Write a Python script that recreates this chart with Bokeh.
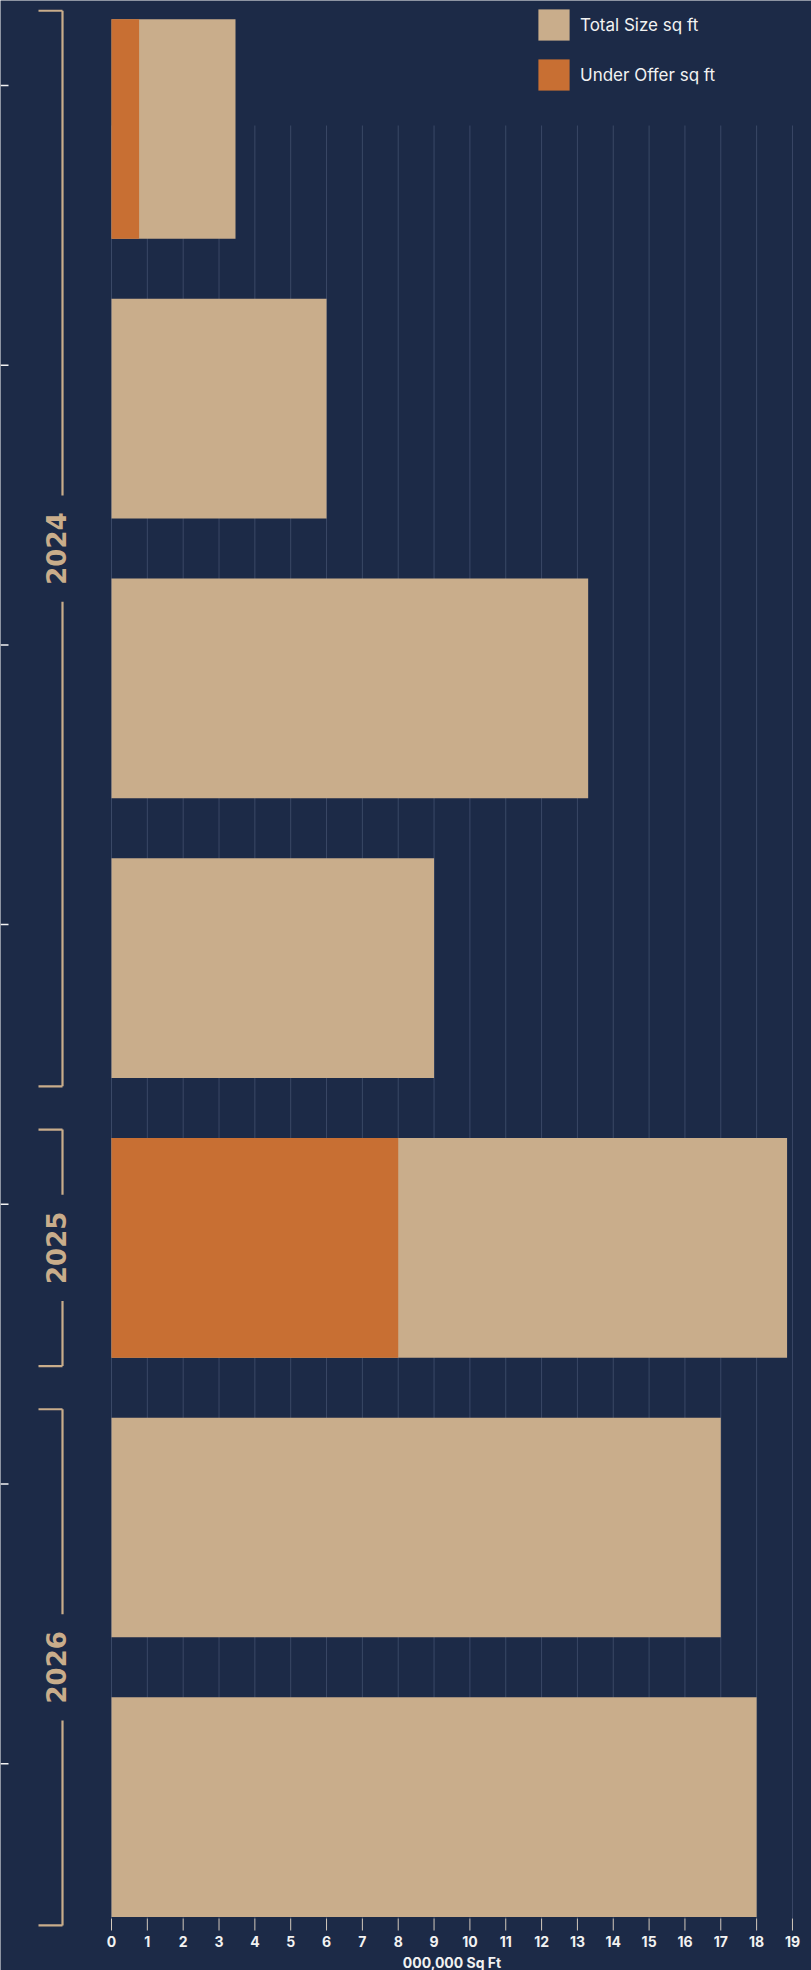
import math
from bokeh.plotting import figure
from bokeh.models import Range1d, Legend, LegendItem, ColumnDataSource
from bokeh.core.properties import value
from bokeh.embed import file_html
from bokeh.resources import INLINE

# ---------------- data ----------------
row_years = ["2024", "2024", "2024", "2024", "2025", "2026", "2026"]
total_size = [3.46, 6.0, 13.3, 9.0, 18.85, 17.0, 18.0]      # 000,000 sq ft
under_offer = [0.77, 0.0, 0.0, 0.0, 8.0, 0.0, 0.0]          # 000,000 sq ft
x_ticks = list(range(0, 20))
x_tick_labels = [str(t) for t in x_ticks]
x_label = "000,000 Sq Ft"
series_names = ["Total Size sq ft", "Under Offer sq ft"]

# ---------------- style ----------------
BG = "#1c2a47"
TAN = "#c9ad8b"
ORANGE = "#c86f33"
GRID = "#3a4866"
WHITE = "#f2f2f2"
TICK = "#d2c8bc"
FONT = "Inter"

W, H = 811, 1970
px_per_x = 35.84          # px per unit on x
x0_px = 111               # pixel where x = 0
px_per_row = 279.7
bar_h = 0.7855
first_center_px = 128.5
plot_bottom_px = 1918

x_start = -x0_px / px_per_x
x_end = x_start + W / px_per_x
y_top = -first_center_px / px_per_row
y_bottom = y_top + H / px_per_row


def ypix(py):
    return y_top + py / px_per_row


def xpix(px):
    return x_start + px / px_per_x


rows = list(range(len(total_size)))

p = figure(
    frame_width=W, frame_height=H,
    x_range=Range1d(x_start, x_end),
    y_range=Range1d(y_bottom, y_top),
    output_backend="svg", toolbar_location=None,
    min_border=0,
    background_fill_color=BG, border_fill_color=BG,
    outline_line_color=None,
)
p.xgrid.visible = False
p.ygrid.visible = False
p.xaxis.visible = False
p.yaxis.visible = False

n = len(x_ticks)
# grid lines (start below the legend band)
p.segment(x0=x_ticks, y0=[ypix(125)] * n, x1=x_ticks,
          y1=[ypix(plot_bottom_px)] * n, line_color=GRID, line_width=1)
# x tick marks
p.segment(x0=x_ticks, y0=[ypix(plot_bottom_px)] * n, x1=x_ticks,
          y1=[ypix(plot_bottom_px + 12)] * n, line_color=TICK, line_width=1)
# x tick labels
p.text(x=x_ticks, y=[ypix(1941)] * n, text=x_tick_labels,
       text_align="center", text_baseline="middle", text_color=WHITE,
       text_font=value(FONT), text_font_style="bold", text_font_size="14px")
# x axis label
p.text(x=[(x_ticks[0] + x_ticks[-1]) / 2], y=[ypix(1962)], text=[x_label],
       text_align="center", text_baseline="middle", text_color=WHITE,
       text_font=value(FONT), text_font_style="bold", text_font_size="14px")

src = ColumnDataSource(dict(y=rows, total=total_size, offer=under_offer))
r_total = p.hbar(y="y", left=0, right="total", height=bar_h, source=src,
                 fill_color=TAN, line_color=None)
r_offer = p.hbar(y="y", left=0, right="offer", height=bar_h, source=src,
                 fill_color=ORANGE, line_color=None)

# category tick marks on the far left
tick_y = [r - 43.5 / px_per_row for r in rows]
p.segment(x0=[xpix(0)] * len(rows), y0=tick_y, x1=[xpix(8)] * len(rows), y1=tick_y,
          line_color=WHITE, line_width=1.5)

# year brackets
groups = []
for i, yr in enumerate(row_years):
    if groups and groups[-1][0] == yr:
        groups[-1][2] = i
    else:
        groups.append([yr, i, i])

bx_line = xpix(62)
bx_end = xpix(38)
tx = xpix(55)
pad = 0.03
gap = 0.19
xs0, ys0, xs1, ys1 = [], [], [], []
labels_x, labels_y, labels_t = [], [], []
for yr, a, b in groups:
    top = a - bar_h / 2 - pad
    bot = b + bar_h / 2 + pad
    mid = (top + bot) / 2
    xs0 += [bx_line, bx_line, bx_end, bx_end]
    ys0 += [top, mid + gap, top, bot]
    xs1 += [bx_line, bx_line, bx_line, bx_line]
    ys1 += [mid - gap, bot, top, bot]
    labels_x.append(tx)
    labels_y.append(mid)
    labels_t.append(yr)
p.segment(x0=xs0, y0=ys0, x1=xs1, y1=ys1, line_color=TAN, line_width=2.2)
p.text(x=labels_x, y=labels_y, text=labels_t, angle=math.pi / 2,
       text_align="center", text_baseline="middle", text_color=TAN,
       text_font=value("DejaVu Sans"), text_font_style="bold",
       text_font_size="26px")

legend = Legend(
    items=[LegendItem(label=series_names[0], renderers=[r_total]),
           LegendItem(label=series_names[1], renderers=[r_offer])],
    location=(534, H - 94),
    orientation="vertical",
    glyph_width=39, glyph_height=39, label_height=39,
    spacing=11, padding=0, margin=0, label_standoff=7,
    background_fill_alpha=0, border_line_color=None,
    label_text_color=WHITE, label_text_font=FONT, label_text_font_size="17px",
)
p.add_layout(legend, "center")

open("out.html", "w").write(file_html(p, INLINE))
